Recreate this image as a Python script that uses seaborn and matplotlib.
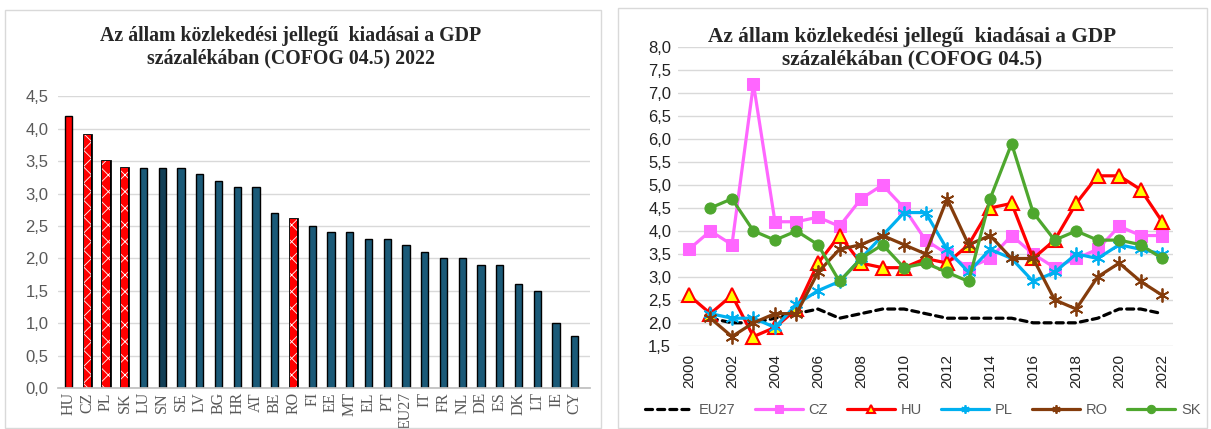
import numpy as np
import pandas as pd
import matplotlib
matplotlib.use('Agg')
import matplotlib.pyplot as plt
import matplotlib.patheffects as pe
import seaborn as sns
from matplotlib.patches import Rectangle
from matplotlib.ticker import FuncFormatter, MultipleLocator

# left chart: 2022 values by country
countries = ['HU', 'CZ', 'PL', 'SK', 'LU', 'SN', 'SE', 'LV', 'BG', 'HR', 'AT', 'BE', 'RO', 'FI',
             'EE', 'MT', 'EL', 'PT', 'EU27', 'IT', 'FR', 'NL', 'DE', 'ES', 'DK', 'LT', 'IE', 'CY']
values_2022 = [4.2, 3.9, 3.5, 3.4, 3.4, 3.4, 3.4, 3.3, 3.2, 3.1, 3.1, 2.7, 2.6, 2.5,
               2.4, 2.4, 2.3, 2.3, 2.2, 2.1, 2.0, 2.0, 1.9, 1.9, 1.6, 1.5, 1.0, 0.8]
hatched = ['CZ', 'PL', 'SK', 'RO']

# right chart: time series
years = list(range(2000, 2023))
nan = np.nan
eu27 = [nan, 2.1, 2.0, 2.0, 2.1, 2.2, 2.3, 2.1, 2.2, 2.3, 2.3, 2.2, 2.1, 2.1, 2.1, 2.1,
        2.0, 2.0, 2.0, 2.1, 2.3, 2.3, 2.2]
cz = [3.6, 4.0, 3.7, 7.2, 4.2, 4.2, 4.3, 4.1, 4.7, 5.0, 4.5, 3.8, 3.5, 3.2, 3.4, 3.9,
      3.5, 3.2, 3.4, 3.6, 4.1, 3.9, 3.9]
hu = [2.6, 2.2, 2.6, 1.7, 1.9, 2.3, 3.3, 3.9, 3.3, 3.2, 3.2, 3.4, 3.3, 3.7, 4.5, 4.6,
      3.4, 3.8, 4.6, 5.2, 5.2, 4.9, 4.2]
pl = [nan, 2.2, 2.1, 2.1, 1.9, 2.4, 2.7, 2.9, 3.4, 3.9, 4.4, 4.4, 3.6, 3.1, 3.6, 3.4,
      2.9, 3.1, 3.5, 3.4, 3.7, 3.6, 3.5]
ro = [nan, 2.1, 1.7, 2.0, 2.2, 2.2, 3.1, 3.6, 3.7, 3.9, 3.7, 3.5, 4.7, 3.7, 3.9, 3.4,
      3.4, 2.5, 2.3, 3.0, 3.3, 2.9, 2.6]
sk = [nan, 4.5, 4.7, 4.0, 3.8, 4.0, 3.7, 2.9, 3.4, 3.7, 3.2, 3.3, 3.1, 2.9, 4.7, 5.9,
      4.4, 3.8, 4.0, 3.8, 3.8, 3.7, 3.4]

title_1 = 'Az állam közlekedési jellegű  kiadásai a GDP\nszázalékában (COFOG 04.5) 2022'
title_2 = 'Az állam közlekedési jellegű  kiadásai a GDP\nszázalékában (COFOG 04.5)'

sns.set_theme(style='white')
plt.rcParams['font.family'] = ['Liberation Sans', 'DejaVu Sans']
plt.rcParams['hatch.linewidth'] = 0.6

grid_col = '#D9D9D9'
text_grey = '#595959'
comma = FuncFormatter(lambda v, p: f'{v:.1f}'.replace('.', ','))

fig = plt.figure(figsize=(12.11, 4.29), dpi=100)

# ---------------- left: bar chart ----------------
ax1 = fig.add_axes([0.048, 0.0956, 0.439, 0.680])
palette = {}
for c in countries:
    if c == 'HU' or c in hatched:
        palette[c] = '#FF0000'
    elif c == 'SN':
        palette[c] = '#123F56'
    else:
        palette[c] = '#1B5A78'
sns.barplot(x=countries, y=values_2022, hue=countries, palette=palette, width=0.38,
            edgecolor='black', linewidth=1, saturation=1, legend=False, ax=ax1)
for c, patch in zip(countries, ax1.patches):
    if c in hatched:
        patch.set_hatch('xx')
        patch.set_edgecolor('white')
        patch.set_linewidth(0)
        patch.set_path_effects([pe.Stroke(linewidth=2, foreground='black'), pe.Normal()])

ax1.set_ylim(0, 4.5)
ax1.set_xlim(-0.55, 27.8)
ax1.yaxis.set_major_locator(MultipleLocator(0.5))
ax1.yaxis.set_major_formatter(comma)
ax1.grid(axis='y', color=grid_col, linewidth=1)
ax1.set_axisbelow(True)
for s in ['top', 'right', 'left']:
    ax1.spines[s].set_visible(False)
ax1.spines['bottom'].set_color('#BFBFBF')
ax1.tick_params(axis='y', labelsize=12, labelcolor=text_grey, length=0, pad=7)
ax1.tick_params(axis='x', length=0, pad=3)
for lab in ax1.get_xticklabels():
    lab.set_rotation(90)
    lab.set_family('Liberation Serif')
    lab.set_fontsize(11.5)
    lab.set_color(text_grey)
fig.text(0.240, 0.890, title_1, ha='center', va='center', family='Liberation Serif',
         fontweight='bold', fontsize=14.3, linespacing=1.12)

# ---------------- right: line chart ----------------
ax2 = fig.add_axes([0.560, 0.194, 0.4086, 0.696])
lw = 2.3
sns.lineplot(x=years, y=eu27, color='black', linewidth=lw, linestyle=(0, (2.2, 1.6)),
             dash_capstyle='round', label='EU27', ax=ax2)
sns.lineplot(x=years, y=cz, color='#FF66FF', linewidth=lw, marker='s', markersize=9,
             markeredgecolor='#FF66FF', label='CZ', ax=ax2)
sns.lineplot(x=years, y=hu, color='#FF0000', linewidth=lw, marker='^', markersize=10,
             markerfacecolor='#FFFF00', markeredgecolor='#FF0000', markeredgewidth=1.5,
             label='HU', ax=ax2)
sns.lineplot(x=years, y=pl, color='#00B0F0', linewidth=lw, marker=(6, 2, 0), markersize=10,
             markeredgecolor='#00B0F0', markeredgewidth=1.3, label='PL', ax=ax2)
sns.lineplot(x=years, y=ro, color='#843C0C', linewidth=lw, marker=(6, 2, 0), markersize=10,
             markeredgecolor='#843C0C', markeredgewidth=1.3, label='RO', ax=ax2)
sns.lineplot(x=years, y=sk, color='#4EA72E', linewidth=lw, marker='o', markersize=8,
             markeredgecolor='#4EA72E', label='SK', ax=ax2)

ax2.set_ylim(1.5, 8.0)
ax2.set_xlim(1999.5, 2022.5)
ax2.set_xticks(years[::2])
ax2.yaxis.set_major_locator(MultipleLocator(0.5))
ax2.yaxis.set_major_formatter(comma)
ax2.grid(axis='y', color=grid_col, linewidth=1)
ax2.set_axisbelow(True)
for s in ['top', 'right', 'left', 'bottom']:
    ax2.spines[s].set_visible(False)
ax2.tick_params(axis='y', labelsize=12, labelcolor='#222222', length=0, pad=5)
ax2.tick_params(axis='x', labelsize=11, labelcolor='#222222', length=0, pad=6,
                labelrotation=90)
handles, labels = ax2.get_legend_handles_labels()
ax2.get_legend().remove()
leg = fig.legend(handles, labels, loc='center', bbox_to_anchor=(0.762, 0.044), ncol=6,
                 frameon=False, fontsize=10.5, handlelength=3.3, columnspacing=1.3,
                 handletextpad=0.4, labelcolor=text_grey)
for h in leg.legend_handles:
    h.set_markersize(6)
fig.text(0.753, 0.888, title_2, ha='center', va='center', family='Liberation Serif',
         fontweight='bold', fontsize=15.3, linespacing=1.15)

# panel borders
fig.add_artist(Rectangle((0.004, 0.003), 0.492, 0.974, transform=fig.transFigure,
                         fill=False, edgecolor=grid_col, linewidth=1))
fig.add_artist(Rectangle((0.510, 0.003), 0.487, 0.979, transform=fig.transFigure,
                         fill=False, edgecolor=grid_col, linewidth=1))

fig.savefig('out.png', dpi=100)
